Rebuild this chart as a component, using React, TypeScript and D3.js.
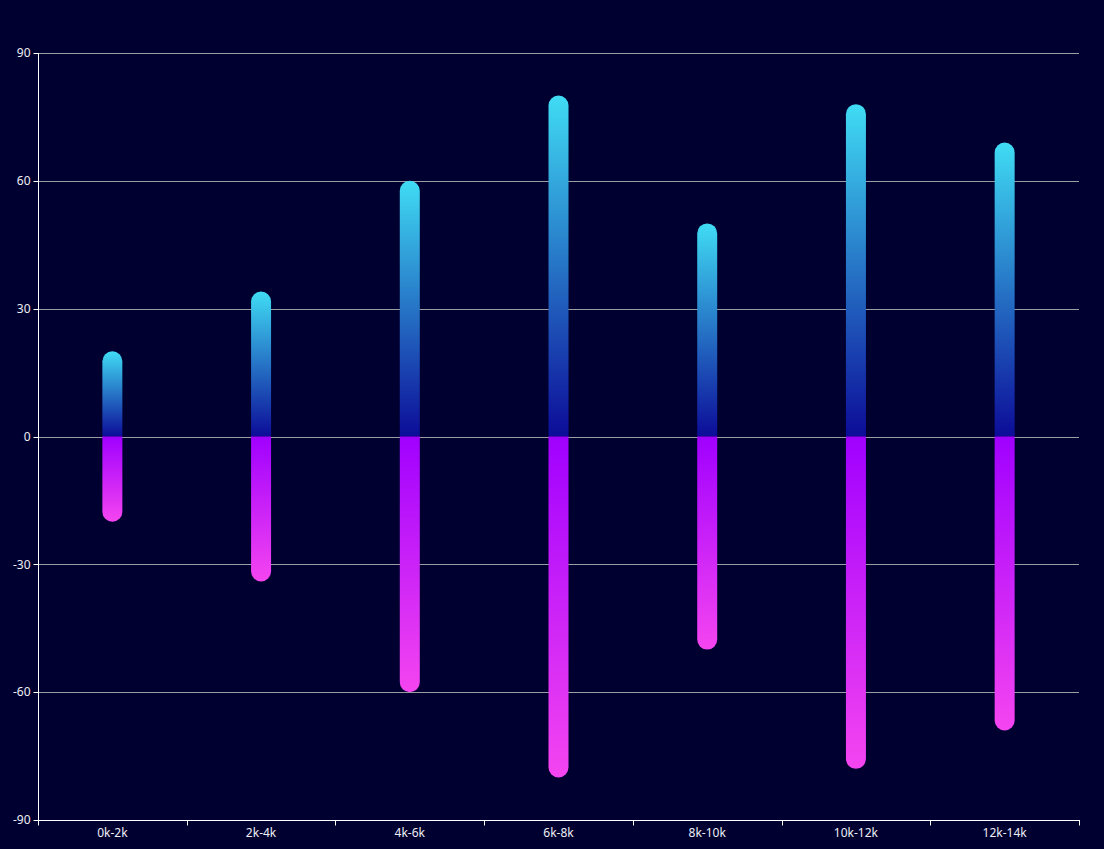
import { useMemo } from "react";
import * as d3 from "d3";

const WIDTH = 1104;
const HEIGHT = 849;
const MARGIN = { top: 53, right: 25, bottom: 29, left: 38 };
const BAR_W = 20;

const CATEGORIES = ["0k-2k", "2k-4k", "4k-6k", "6k-8k", "8k-10k", "10k-12k", "12k-14k"];
const UP_VALUES = [20, 34, 60, 80, 50, 78, 69];
const DOWN_VALUES = [-20, -34, -60, -80, -50, -78, -69];
const Y_TICKS = [-90, -60, -30, 0, 30, 60, 90];

const BG = "#000030";

// bar path with the far end rounded and the zero end square
function barPath(x: number, y0: number, y1: number, w: number) {
  const r = w / 2;
  if (y1 < y0) {
    return `M${x},${y0} L${x},${y1 + r} A${r},${r} 0 0 1 ${x + w},${y1 + r} L${x + w},${y0} Z`;
  }
  return `M${x},${y0} L${x},${y1 - r} A${r},${r} 0 0 0 ${x + w},${y1 - r} L${x + w},${y0} Z`;
}

export default function App() {
  const xScale = useMemo(
    () => d3.scaleBand().domain(CATEGORIES).range([MARGIN.left, WIDTH - MARGIN.right]).padding(0),
    []
  );
  const yScale = useMemo(
    () => d3.scaleLinear().domain([-90, 90]).range([HEIGHT - MARGIN.bottom, MARGIN.top]),
    []
  );

  const x0 = MARGIN.left + 0.5;
  const x1 = WIDTH - MARGIN.right;
  const yBottom = yScale(-90);
  const zero = yScale(0);
  const bounds = [...CATEGORIES.map((c) => xScale(c) ?? 0), WIDTH - MARGIN.right];

  return (
    <div style={{ position: "fixed", left: 0, top: 0, width: WIDTH, height: HEIGHT, background: BG }}>
      <svg width={WIDTH} height={HEIGHT} style={{ display: "block" }} fontFamily="'Noto Sans', 'DejaVu Sans', sans-serif">
        <defs>
          <linearGradient id="gradUp" x1="0" y1="0" x2="0" y2="1">
            <stop offset="0%" stopColor="#40dcf4" />
            <stop offset="100%" stopColor="#0c0c98" />
          </linearGradient>
          <linearGradient id="gradDown" x1="0" y1="0" x2="0" y2="1">
            <stop offset="0%" stopColor="#a000ff" />
            <stop offset="100%" stopColor="#f545f0" />
          </linearGradient>
        </defs>
        <rect width={WIDTH} height={HEIGHT} fill={BG} />

        {Y_TICKS.map((t) => (
          <g key={t}>
            {t !== -90 && (
              <line x1={x0} x2={x1} y1={Math.round(yScale(t)) + 0.5} y2={Math.round(yScale(t)) + 0.5} stroke="#9c9ca4" strokeWidth={1} />
            )}
            <line x1={x0 - 5} x2={x0} y1={Math.round(yScale(t)) + 0.5} y2={Math.round(yScale(t)) + 0.5} stroke="#ffffff" />
            <text x={x0 - 8} y={yScale(t)} dy="0.35em" textAnchor="end" fill="#eeeef4" fontSize={12}>
              {t}
            </text>
          </g>
        ))}

        {CATEGORIES.map((c, i) => {
          const bx = (xScale(c) ?? 0) + xScale.bandwidth() / 2 - BAR_W / 2;
          return (
            <g key={c}>
              <path d={barPath(bx, zero, yScale(UP_VALUES[i]), BAR_W)} fill="url(#gradUp)" />
              <path d={barPath(bx, zero, yScale(DOWN_VALUES[i]), BAR_W)} fill="url(#gradDown)" />
            </g>
          );
        })}

        <line x1={x0} x2={x0} y1={MARGIN.top} y2={Math.round(yBottom) + 0.5} stroke="#ffffff" />
        <line x1={x0} x2={x1} y1={Math.round(yBottom) + 0.5} y2={Math.round(yBottom) + 0.5} stroke="#ffffff" />
        {bounds.map((b, i) => (
          <line key={i} x1={Math.round(b) + 0.5} x2={Math.round(b) + 0.5} y1={Math.round(yBottom)} y2={Math.round(yBottom) + 5.5} stroke="#ffffff" />
        ))}
        {CATEGORIES.map((c) => (
          <text
            key={c}
            x={(xScale(c) ?? 0) + xScale.bandwidth() / 2}
            y={yBottom + 17}
            textAnchor="middle"
            fill="#eeeef4"
            fontSize={12}
          >
            {c}
          </text>
        ))}
      </svg>
    </div>
  );
}
